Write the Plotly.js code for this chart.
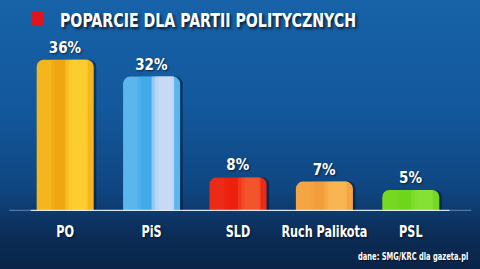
<!DOCTYPE html>
<html>
<head>
<meta charset="utf-8">
<script src="https://cdn.plot.ly/plotly-3.0.1.min.js"></script>
<style>
html,body{margin:0;padding:0;}
#chart{width:480px;height:269px;background:linear-gradient(to bottom,#1762a8 0%,#13589c 40%,#0f4681 70%,#0b2c56 88%,#0a2448 100%);}
</style>
</head>
<body>
<div id="chart"></div>
<script>
// Data
const categories = ["PO", "PiS", "SLD", "Ruch Palikota", "PSL"];
const support = [36, 32, 8, 7, 5];
const valueLabels = ["36%", "32%", "8%", "7%", "5%"];
const titleText = "POPARCIE DLA PARTII POLITYCZNYCH";
const sourceText = "dane: SMG/KRC dla gazeta.pl";

// Styles
const baseColors = ["#f5b51c", "#5cb6ee", "#ec2b16", "#f6a544", "#76d820"];
const shadeColors = ["rgba(238,155,10,0.35)", "rgba(40,160,230,0.3)", "rgba(240,20,10,0.3)", "rgba(240,150,50,0.25)", "rgba(100,210,20,0.25)"];
const shineColors = ["rgba(252,212,55,0.4)", "rgba(212,220,245,0.55)", "rgba(245,105,55,0.3)", "rgba(250,190,90,0.35)", "rgba(140,230,60,0.35)"];

const FONT = "'Liberation Sans Narrow', 'DejaVu Sans Condensed', 'Arial Narrow', sans-serif";
const x = categories.map((c, i) => i);

function strip(colors, offset, width) {
  return { type: "bar", x: x, y: support, width: width, offset: offset,
    marker: { color: colors, cornerradius: 0 }, hoverinfo: "skip", showlegend: false };
}

const traces = [
  { type: "bar", x: x, y: support, width: 0.66,
    marker: { color: "rgba(0,10,30,0.45)", cornerradius: 7 }, offset: -0.30,
    hoverinfo: "skip", showlegend: false },
  { type: "bar", x: x, y: support, width: 0.66,
    marker: { color: baseColors, cornerradius: 7 },
    text: valueLabels, textposition: "outside", cliponaxis: false,
    textfont: { family: FONT, size: 15, color: "#ffffff", weight: "bold", shadow: "1px 1px 2px rgba(0,0,0,0.6)" },
    showlegend: false },
  strip(shadeColors, -0.16, 0.2),
  strip(shadeColors, -0.12, 0.12),
  strip(shineColors, 0.0, 0.26),
  strip(shineColors, 0.04, 0.22),
  strip(shineColors, 0.08, 0.16)
];

const layout = {
  width: 480, height: 269,
  margin: { l: 22, r: 26, t: 43, b: 58 },
  paper_bgcolor: "rgba(0,0,0,0)", plot_bgcolor: "rgba(0,0,0,0)",
  barmode: "overlay",
  title: { text: titleText, x: 60/480, xanchor: "left", y: 1 - 20/269, yanchor: "middle",
    font: { family: FONT, size: 19, color: "#ffffff", weight: "bold", shadow: "2px 2px 3px rgba(0,0,0,0.7)" } },
  xaxis: { range: [-0.5, 4.5], tickvals: x, ticktext: categories, showgrid: false, zeroline: false, showline: false,
    ticks: "", ticklabelstandoff: 9, fixedrange: true,
    tickfont: { family: FONT, size: 16, color: "#ffffff", weight: "bold", shadow: "1px 1px 2px rgba(0,0,0,0.6)" } },
  yaxis: { range: [0, 40], visible: false, fixedrange: true },
  shapes: [
    { type: "rect", xref: "paper", yref: "paper", x0: (31-22)/432, x1: (44-22)/432, y0: (211-25)/168, y1: (211-12)/168,
      fillcolor: "#e0141e", line: { width: 0 } },
    { type: "line", xref: "paper", yref: "y", x0: -0.03, x1: 0.02, y0: 0, y1: 0, line: { color: "rgba(220,232,245,0.35)", width: 2.5 } },
    { type: "line", xref: "paper", yref: "y", x0: 0.02, x1: 0.99, y0: 0, y1: 0, line: { color: "rgba(225,236,248,0.95)", width: 2.5 } },
    { type: "line", xref: "paper", yref: "y", x0: 0.99, x1: 1.04, y0: 0, y1: 0, line: { color: "rgba(220,232,245,0.35)", width: 2.5 } }
  ],
  annotations: [
    { text: sourceText, xref: "paper", yref: "paper", x: (470-22)/432, y: (211-256)/168, xanchor: "right", yanchor: "middle",
      showarrow: false, font: { family: FONT, size: 10, color: "#ffffff", weight: "bold", shadow: "1px 1px 1px rgba(0,0,0,0.6)" } }
  ]
};

// Narrow the condensed font horizontally to match the reference's compressed lettering
function squeeze(root, selector, s, anchor) {
  root.querySelectorAll(selector).forEach(function (el) {
    const b = el.getBBox();
    const ax = anchor === "left" ? b.x : anchor === "right" ? b.x + b.width : b.x + b.width / 2;
    const prev = el.getAttribute("transform") || "";
    el.setAttribute("transform", prev + " translate(" + ax + ",0) scale(" + s + ",1) translate(" + (-ax) + ",0)");
  });
}

Plotly.newPlot("chart", traces, layout, { displayModeBar: false, staticPlot: true }).then(function (gd) {
  squeeze(gd, ".gtitle", 0.83, "left");
  squeeze(gd, ".xtick text", 0.78, "center");
  squeeze(gd, ".annotation-text", 0.75, "right");
});
</script>
</body>
</html>
